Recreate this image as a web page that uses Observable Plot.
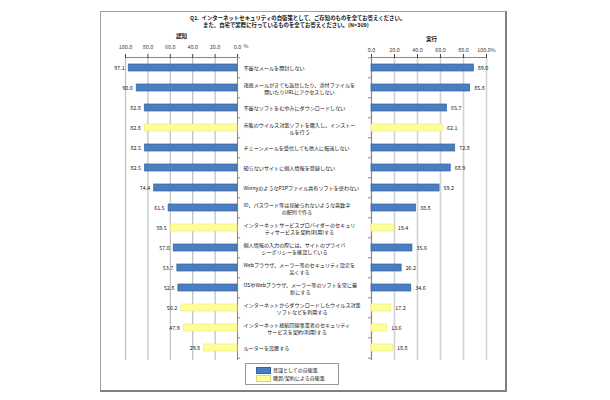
<!DOCTYPE html>
<html lang="ja">
<head>
<meta charset="utf-8">
<script src="https://cdn.jsdelivr.net/npm/d3@7"></script>
<script src="https://cdn.jsdelivr.net/npm/@observablehq/plot@0.6"></script>
<style>
  html, body { margin: 0; padding: 0; background: #fff; }
  #wrap { position: relative; width: 610px; height: 400px; background: #fff; overflow: hidden;
          font-family: "Noto Sans CJK JP", "Noto Sans", sans-serif; color: #111; }
  #frame { position: absolute; left: 100px; top: 11px; width: 404px; height: 378px;
           border: 1px solid #a0a0a0; border-right: 2px solid #808080; border-bottom: 2px solid #808080; }
  .title { position: absolute; font-size: 5.4px; font-weight: bold; white-space: nowrap; line-height: 7px; }
  #legend { position: absolute; left: 245px; top: 363px; width: 92px; height: 20px;
            border: 1px solid #999; background: #fff; font-size: 5px; }
  .sw { position: absolute; left: 10px; width: 13px; height: 5px; }
  .lt { position: absolute; left: 27px; line-height: 6px; white-space: nowrap; }
</style>
</head>
<body>
<div id="wrap">
  <div id="frame"></div>
  <div class="title" style="left:190px;top:15px">Q1.&nbsp; インターネットセキュリティの自衛策として、ご存知のものを全てお答えください。</div>
  <div class="title" style="left:203px;top:22px">また、自宅で実際に行っているものを全てお答えください。(N=309)</div>
</div>
<script>
// ---- data ----
const categories = [
  "不審なメールを開封しない",
  "迷惑メールがきても返信したり、添付ファイルを\n開いたりURLにアクセスしない",
  "不審なソフトをむやみにダウンロードしない",
  "市販のウイルス対策ソフトを購入し、インストー\nルを行う",
  "チェーンメールを受信しても他人に転送しない",
  "知らないサイトに個人情報を登録しない",
  "WinnyのようなP2Pファイル共有ソフトを使わない",
  "ID、パスワード等は見破られないような英数字\nの配列で作る",
  "インターネットサービスプロバイダーのセキュリ\nティサービスを契約(利用)する",
  "個人情報の入力の際には、サイトのプライバ\nシーポリシーを確認している",
  "Webブラウザ、メーラー等のセキュリティ設定を\n高くする",
  "OSやWebブラウザ、メーラー等のソフトを常に最\n新にする",
  "インターネットからダウンロードしたウイルス対策\nソフトなどを利用する",
  "インターネット接続回線事業者のセキュリティ\nサービスを契約(利用)する",
  "ルーターを設置する"
];
const recognition = [97.1, 90.0, 82.8, 82.8, 82.5, 82.5, 74.4, 61.5, 59.5, 57.0, 53.7, 52.8, 50.2, 47.9, 29.8];
const practice    = [89.0, 85.8, 65.7, 62.1, 72.8, 68.9, 59.2, 38.8, 19.4, 35.6, 26.2, 34.6, 17.2, 13.6, 18.8];
const typeLabels = ["意識としての自衛策", "購買/契約による自衛策"];
const types = [0, 0, 0, 1, 0, 0, 0, 0, 1, 0, 0, 0, 1, 1, 1];
const axisTicks = [0, 20, 40, 60, 80, 100];
const leftTitle = "認知";
const rightTitle = "実行";

// ---- styles ----
const BLUE = "#4A7EC0", BLUE_EDGE = "#35639F", YELLOW = "#FFFF99";
const FONT = '"Noto Sans CJK JP", "Noto Sans", sans-serif';

const rows = categories.map((c, i) => {
  const [l1, l2] = c.split("\n");
  return { cat: c, line1: l1, line2: l2 || null, left: recognition[i], right: practice[i], type: typeLabels[types[i]] };
});

const yScale = { domain: categories, range: [55, 361], paddingInner: 0.64, paddingOuter: 0.32, axis: null };
const halfStep = (361 - 55) / categories.length / 2;
const colorScale = { domain: typeLabels, range: [BLUE, YELLOW] };
const baseStyle = { background: "transparent", position: "absolute", left: "0px", top: "0px",
                    overflow: "visible", fontFamily: FONT, fontSize: "5.4px", color: "#222" };
const last = rows.slice(-1);

// ---- left chart (認知) ----
const left = Plot.plot({
  width: 610, height: 400,
  marginLeft: 125, marginRight: 373, marginTop: 57, marginBottom: 40,
  style: baseStyle,
  x: { domain: [0, 100], reverse: true, label: null },
  y: yScale,
  color: colorScale,
  marks: [
    Plot.gridX(axisTicks, { stroke: "#bdbdbd", strokeOpacity: 1, strokeWidth: 1.2 }),
    Plot.frame({ anchor: "top", stroke: "#888" }),
    Plot.axisX(axisTicks, { anchor: "top", tickSize: 4, tickPadding: 5, color: "#444", label: null,
                            tickFormat: d => d.toFixed(1) }),
    Plot.text(["%"], { x: () => 0, frameAnchor: "top", dy: -13, dx: 6, textAnchor: "start", fill: "#444", text: d => d }),
    Plot.text([leftTitle], { frameAnchor: "top", dy: -23, fontWeight: "bold", fontSize: 5.6, text: d => d, fill: "#111" }),
    Plot.ruleX([0], { stroke: "#8a8a8a" }),
    Plot.ruleY(rows, { y: "cat", x1: 0, x2: -2.7, dy: -halfStep, stroke: "#8a8a8a" }),
    Plot.ruleY(last, { y: "cat", x1: 0, x2: -2.7, dy: halfStep, stroke: "#8a8a8a" }),
    Plot.barX(rows, { x: "left", y: "cat", fill: "type",
                      stroke: d => d.type === typeLabels[0] ? BLUE_EDGE : "#ecec80", strokeWidth: 0.7 }),
    Plot.text(rows, { x: "left", y: "cat", text: d => d.left.toFixed(1), textAnchor: "end", dx: -4, fill: "#222" })
  ]
});

// ---- right chart (実行) ----
const right = Plot.plot({
  width: 610, height: 400,
  marginLeft: 371, marginRight: 124, marginTop: 57, marginBottom: 40,
  style: baseStyle,
  x: { domain: [0, 100], label: null },
  y: yScale,
  color: colorScale,
  marks: [
    Plot.gridX(axisTicks, { stroke: "#d2d2d2", strokeOpacity: 1, strokeWidth: 1.6 }),
    Plot.frame({ anchor: "top", stroke: "#888" }),
    Plot.axisX(axisTicks, { anchor: "top", tickSize: 4, tickPadding: 1.5, color: "#444", label: null,
                            tickFormat: d => d === 100 ? "100.0%" : d.toFixed(1) }),
    Plot.text([rightTitle], { frameAnchor: "top", dy: -20, dx: 2.5, fontWeight: "bold", fontSize: 5.6, text: d => d, fill: "#111" }),
    Plot.ruleX([0], { stroke: "#8a8a8a" }),
    Plot.ruleY(rows, { y: "cat", x1: 0, x2: -2.6, dy: -halfStep, stroke: "#8a8a8a" }),
    Plot.ruleY(last, { y: "cat", x1: 0, x2: -2.6, dy: halfStep, stroke: "#8a8a8a" }),
    Plot.barX(rows, { x: "right", y: "cat", fill: "type",
                      stroke: d => d.type === typeLabels[0] ? BLUE_EDGE : "#ecec80", strokeWidth: 0.7 }),
    Plot.text(rows, { x: "right", y: "cat", text: d => d.right.toFixed(1), textAnchor: "start", dx: 4, fill: "#222" })
  ]
});

// ---- middle category labels ----
const LABEL_X = 243, LABEL_FS = 5.1;
const ctx = document.createElement("canvas").getContext("2d");
ctx.font = `${LABEL_FS}px ${FONT}`;
const singles = rows.filter(d => !d.line2);
const doubles = rows.filter(d => d.line2).map(d => ({ ...d, mid: LABEL_X + ctx.measureText(d.line1).width / 2 }));
const middle = Plot.plot({
  width: 610, height: 400,
  marginLeft: 0, marginRight: 0, marginTop: 57, marginBottom: 40,
  style: { ...baseStyle, fontSize: LABEL_FS + "px" },
  x: { type: "identity", axis: null },
  y: yScale,
  marks: [
    Plot.text(singles, { x: () => LABEL_X, y: "cat", text: "line1", textAnchor: "start", fill: "#111" }),
    Plot.text(doubles, { x: () => LABEL_X, y: "cat", text: "line1", textAnchor: "start", dy: -3.6, fill: "#111" }),
    Plot.text(doubles, { x: "mid", y: "cat", text: "line2", textAnchor: "middle", dy: 3.6, fill: "#111" })
  ]
});

const wrap = document.getElementById("wrap");
wrap.appendChild(left);
wrap.appendChild(right);
wrap.appendChild(middle);

// ---- legend ----
const legend = document.createElement("div");
legend.id = "legend";
typeLabels.forEach((t, i) => {
  const sw = document.createElement("div");
  sw.className = "sw";
  sw.style.top = (3 + i * 8) + "px";
  sw.style.background = colorScale.range[i];
  sw.style.border = "0.6px solid " + (i === 0 ? BLUE_EDGE : "#d8d880");
  const lt = document.createElement("div");
  lt.className = "lt";
  lt.style.top = (2.5 + i * 8) + "px";
  lt.textContent = t;
  legend.appendChild(sw);
  legend.appendChild(lt);
});
wrap.appendChild(legend);
</script>
</body>
</html>
